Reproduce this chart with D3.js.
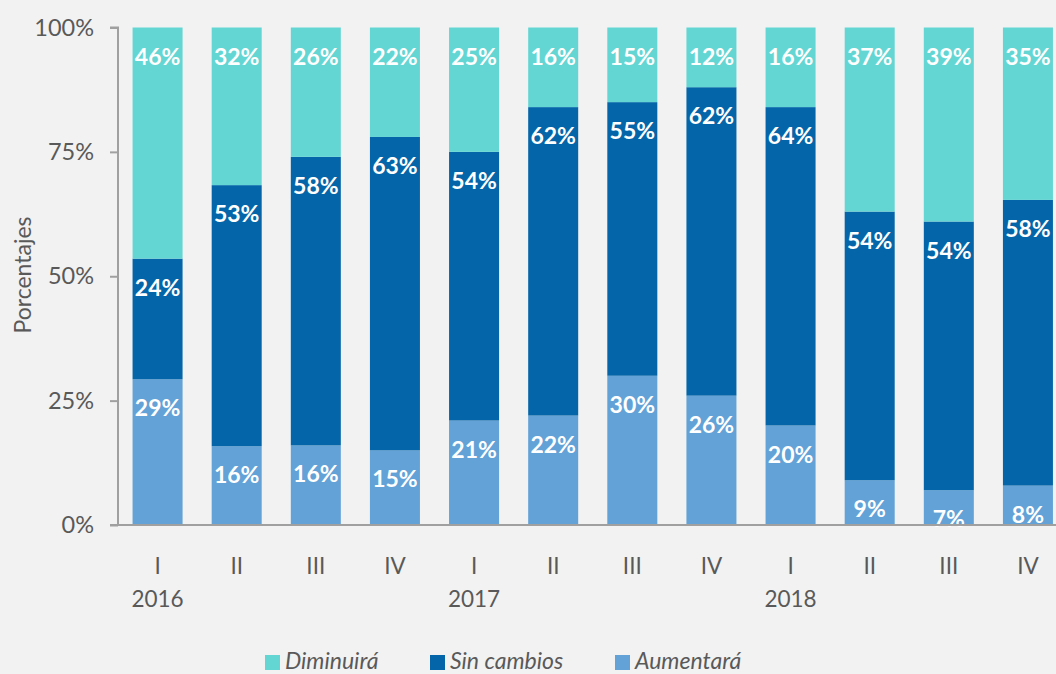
<!DOCTYPE html>
<html><head><meta charset="utf-8">
<script src="https://cdn.jsdelivr.net/npm/d3@7"></script>
<style>html,body{margin:0;padding:0;background:#f2f2f2;}svg{display:block;}</style>
</head><body>
<svg id="c" width="1056" height="674"></svg>
<script>
const quarters = ["I","II","III","IV","I","II","III","IV","I","II","III","IV"];
const years = ["2016","","","","2017","","","","2018","","",""];
const aumentara = [29,16,16,15,21,22,30,26,20,9,7,8];
const sinCambios = [24,53,58,63,54,62,55,62,64,54,54,58];
const disminuira = [46,32,26,22,25,16,15,12,16,37,39,35];
const seriesNames = ["Diminuirá","Sin cambios","Aumentará"];
const yTicks = [0,0.25,0.5,0.75,1];

const colors = {"Aumentará":"#62a2d7","Sin cambios":"#0466a9","Diminuirá":"#63d6d3"};
const textColor = "#595959";
const font = "Lato, 'Open Sans', sans-serif";

const svg = d3.select("#c");
const W = 1056, H = 674;
svg.append("rect").attr("width",W).attr("height",H).attr("fill","#f2f2f2");

const rows = quarters.map((q,i)=>({i:i, "Aumentará":aumentara[i], "Sin cambios":sinCambios[i], "Diminuirá":disminuira[i]}));
const stack = d3.stack().keys(["Aumentará","Sin cambios","Diminuirá"]).offset(d3.stackOffsetExpand);
const layers = stack(rows);

const x = d3.scaleBand().domain(d3.range(12)).range([118, 1067.5]).paddingInner(0.368).paddingOuter(0.184);
const y = d3.scaleLinear().domain([0,1]).range([525, 27.5]);

// bars
const g = svg.append("g");
layers.forEach(layer=>{
  const key = layer.key;
  g.selectAll(null).data(layer).enter().append("rect")
    .attr("x",(d,i)=>x(i)).attr("width",x.bandwidth())
    .attr("y",d=>y(d[1])).attr("height",d=>y(d[0])-y(d[1]))
    .attr("fill",colors[key]);
});

// y axis
const yAxis = d3.axisLeft(y).tickValues(yTicks).tickFormat(d3.format(".0%")).tickSize(8).tickPadding(16);
const ya = svg.append("g").attr("transform","translate(118,0)").call(yAxis);
ya.select(".domain").attr("stroke","#a0a0a0").attr("stroke-width",2).attr("d","M-8,27.5H0V525H-8");
ya.selectAll(".tick line").attr("stroke","#a0a0a0").attr("stroke-width",2);
ya.selectAll(".tick text").attr("fill",textColor).style("font-family",font).style("font-size","23.5px");

// x baseline
svg.append("line").attr("x1",118).attr("x2",W).attr("y1",y(0)).attr("y2",y(0))
  .attr("stroke","#a0a0a0").attr("stroke-width",2);

// value labels
layers.forEach(layer=>{
  const key = layer.key;
  const vals = key==="Aumentará"?aumentara:(key==="Sin cambios"?sinCambios:disminuira);
  g.selectAll(null).data(layer).enter().append("text")
    .attr("x",(d,i)=>x(i)+x.bandwidth()/2)
    .attr("y",d=>y(d[1])+37)
    .attr("text-anchor","middle")
    .attr("fill","#ffffff")
    .style("font-family",font).style("font-weight","bold").style("font-size","23px")
    .text((d,i)=>vals[i]+"%");
});

// category labels
const xa = svg.append("g");
xa.selectAll(null).data(quarters).enter().append("text")
  .attr("x",(d,i)=>x(i)+x.bandwidth()/2).attr("y",574)
  .attr("text-anchor","middle").attr("fill",textColor)
  .style("font-family",font).style("font-size","22.5px").text(d=>d);
xa.selectAll(null).data(years).enter().append("text")
  .attr("x",(d,i)=>x(i)+x.bandwidth()/2).attr("y",607)
  .attr("text-anchor","middle").attr("fill",textColor)
  .style("font-family",font).style("font-size","22.5px").text(d=>d);

// y label
svg.append("text").attr("transform","translate(31,275) rotate(-90)")
  .attr("text-anchor","middle").attr("fill",textColor)
  .style("font-family",font).style("font-size","23px").text("Porcentajes");

// legend
const legendX = [265, 430, 615];
const lg = svg.append("g");
seriesNames.forEach((n,k)=>{
  lg.append("rect").attr("x",legendX[k]).attr("y",655).attr("width",15).attr("height",15).attr("fill",colors[n]);
  lg.append("text").attr("x",legendX[k]+20).attr("y",669).attr("fill",textColor)
    .style("font-family",font).style("font-style","italic").style("font-size","23px").text(n);
});
</script>
</body></html>
